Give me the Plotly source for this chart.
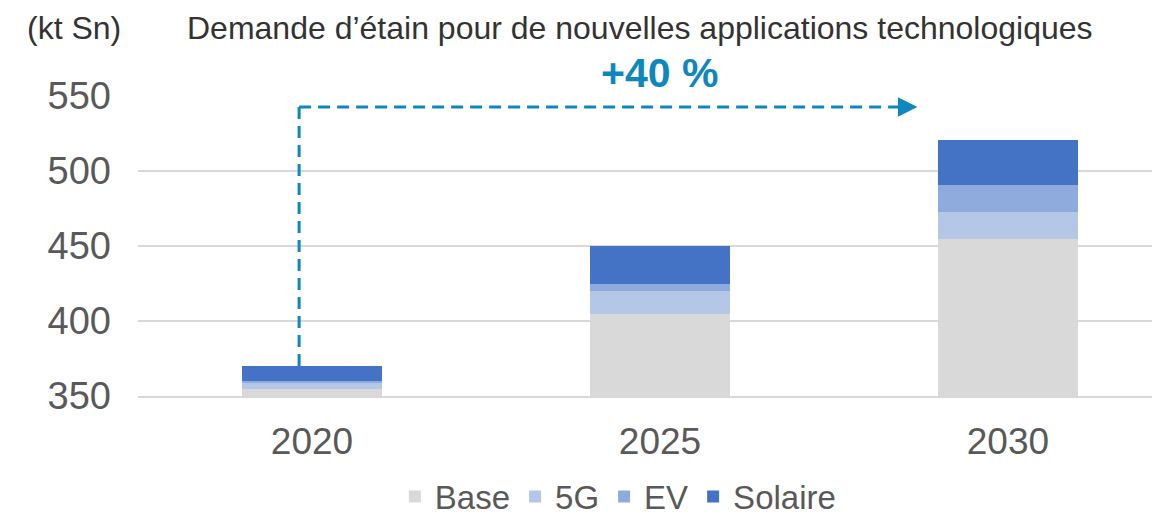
import plotly.graph_objects as go

years = ["2020", "2025", "2030"]
base = [355, 405, 455]
g5 = [4, 15, 18]
ev = [1, 5, 18]
solaire = [10, 25, 30]

series = [("Base", base, "#D9D9D9"), ("5G", g5, "#B4C7E7"),
          ("EV", ev, "#8FAADC"), ("Solaire", solaire, "#4472C4")]

FONT = "Liberation Sans, Arial, sans-serif"
ARROW = "#0E87BF"

fig = go.Figure()
for name, vals, col in series:
    fig.add_trace(go.Bar(x=years, y=vals, name=name, marker=dict(color=col, line=dict(width=0)),
                         width=0.4, hoverinfo="skip"))

fig.update_layout(
    barmode="stack",
    width=1160, height=518,
    margin=dict(l=130, r=8, t=88, b=130, autoexpand=False),
    plot_bgcolor="white", paper_bgcolor="white",
    font=dict(family=FONT, color="#595959"),
    showlegend=True,
    legend=dict(orientation="h", x=0.47, xanchor="center", y=-0.335, yanchor="middle",
                font=dict(size=33, color="#595959"), traceorder="normal",
                itemwidth=30, itemsizing="constant"),
    xaxis=dict(type="category", range=[-0.5, 2.437], showgrid=False, showline=True,
               linecolor="#D9D9D9", linewidth=2, ticks="", tickfont=dict(size=37, color="#595959"),
               ticklabelstandoff=12, fixedrange=True),
    yaxis=dict(range=[350, 550], tickvals=[350, 400, 450, 500, 550], showgrid=True,
               gridcolor="#D9D9D9", gridwidth=2, zeroline=False, showline=False,
               tickfont=dict(size=38, color="#595959"), ticklabelstandoff=26, fixedrange=True),
)

total_2020 = base[0] + g5[0] + ev[0] + solaire[0]
y_arrow = 542.7
x_start = -0.037
x_end = 1.74
fig.add_shape(type="line", xref="x", yref="y", x0=x_start, x1=x_start, y0=total_2020, y1=y_arrow,
              line=dict(color=ARROW, width=3, dash="12px,7px"))
fig.add_shape(type="line", xref="x", yref="y", x0=x_start, x1=x_end - 0.03, y0=y_arrow, y1=y_arrow,
              line=dict(color=ARROW, width=3, dash="12px,7px"))
fig.add_annotation(x=x_end, y=y_arrow, ax=x_end - 0.03, ay=y_arrow, xref="x", yref="y",
                   axref="x", ayref="y", showarrow=True, arrowhead=2, arrowsize=1.3,
                   arrowwidth=3, arrowcolor=ARROW, text="")

fig.add_annotation(x=1.0, y=1.077, xref="x", yref="paper", text="<b>+40 %</b>", showarrow=False,
                   font=dict(size=41, color=ARROW, family=FONT), xanchor="center", yanchor="middle")
fig.add_annotation(x=-0.1106, y=1.225, xref="paper", yref="paper", text="(kt Sn)", showarrow=False,
                   font=dict(size=32, color="#333333", family=FONT), xanchor="left", yanchor="middle")
fig.add_annotation(x=0.491, y=1.225, xref="paper", yref="paper",
                   text="Demande d’étain pour de nouvelles applications technologiques",
                   showarrow=False, font=dict(size=32, color="#333333", family=FONT),
                   xanchor="center", yanchor="middle")

fig.write_html("out.html")
